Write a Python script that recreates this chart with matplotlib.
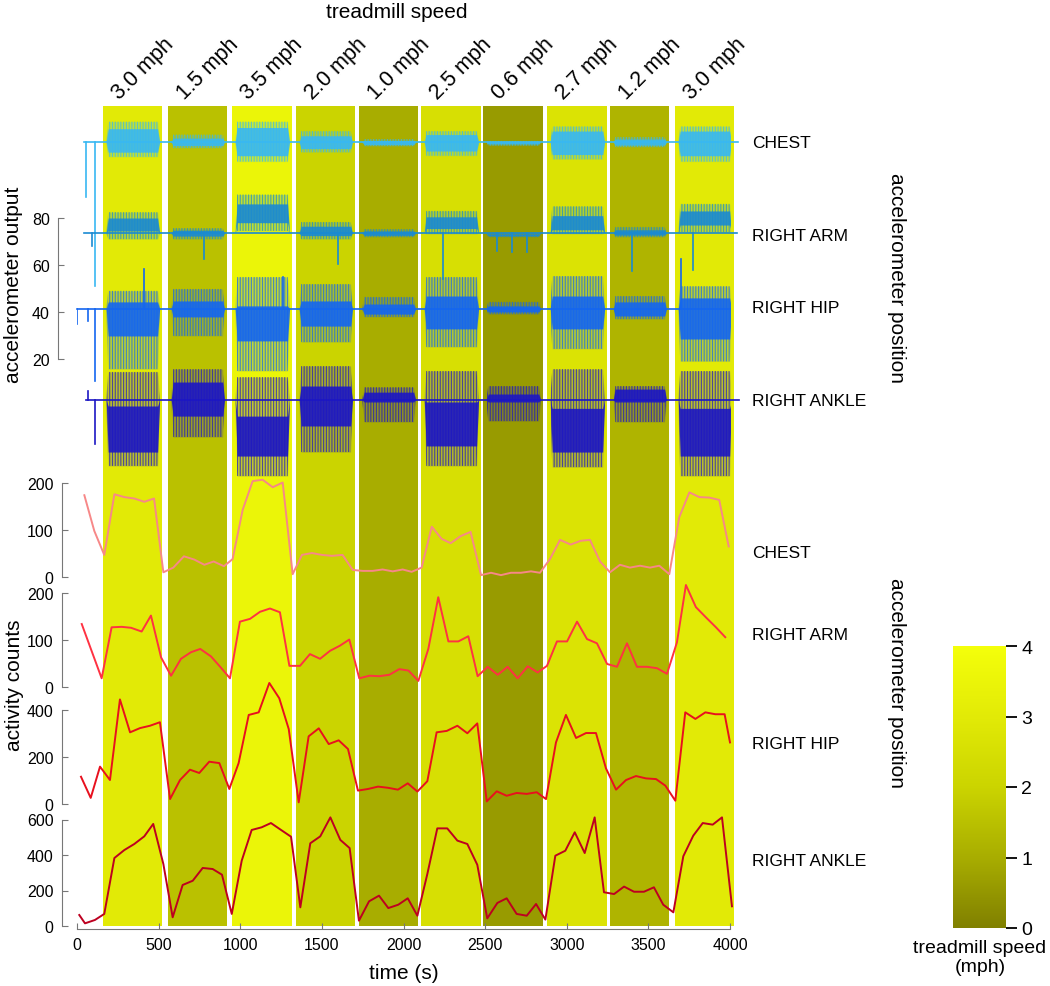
import numpy as np
import matplotlib
matplotlib.use("Agg")
import matplotlib.pyplot as plt
import matplotlib.transforms as mtransforms
from matplotlib.colors import LinearSegmentedColormap, Normalize
from matplotlib.cm import ScalarMappable

plt.rcParams['font.family'] = ['Liberation Sans', 'DejaVu Sans']
plt.rcParams['hatch.linewidth'] = 0.8

W, H = 1050, 987

# treadmill stages
speeds = [3.0, 1.5, 3.5, 2.0, 1.0, 2.5, 0.6, 2.7, 1.2, 3.0]
stage_start = [159, 557, 949, 1341, 1727, 2107, 2487, 2879, 3265, 3663]
stage_end = [521, 919, 1317, 1703, 2089, 2475, 2855, 3247, 3626, 4025]
positions = ['CHEST', 'RIGHT ARM', 'RIGHT HIP', 'RIGHT ANKLE']

# raw accelerometer output (envelope of the trace per stage)
raw_base = [112.3, 73.6, 41.3, 2.6]
raw_span = [(45, 4050), (45, 4040), (0, 4000), (55, 4055)]
raw_hi = [[121, 115.5, 121, 117, 113.6, 117, 112.8, 119, 114.5, 119],
          [82.5, 75.7, 90, 78.3, 75.3, 83, 73.6, 85, 76.2, 86],
          [49, 49.8, 54.9, 51.9, 46.4, 54.9, 44.3, 55.3, 46.8, 51],
          [14.5, 15.7, 12.3, 17, 8, 14.9, 8.5, 15.7, 8.5, 14.9]]
raw_lo = [[106, 109.8, 104, 108, 110.6, 106.5, 110.8, 105, 110.2, 104],
          [71, 71, 74.5, 71, 71.9, 73.2, 71.9, 73.2, 71.9, 74],
          [15.7, 29.8, 14.9, 27.2, 37.9, 25.1, 39.1, 24.3, 37, 19],
          [-25.5, -13.2, -29.8, -19.6, -6.8, -25.5, -6.4, -26, -6.8, -29.8]]
raw_core_hi = [[118, 114, 118.5, 115, 113, 115.5, 112.6, 117, 113.6, 117],
               [80, 74.8, 86, 76.5, 74.5, 80.5, 73.2, 81, 75, 83],
               [44.3, 44.7, 42.6, 44.7, 43.4, 46.8, 42.6, 46.8, 44.3, 46],
               [0, 10.2, -4.3, 8.5, 5.9, 1.7, 5.1, -1, 7.2, -1]]
raw_core_lo = [[108, 110.8, 106.5, 109.5, 111.2, 108.5, 111.5, 107, 111, 106.5],
               [74.5, 72.3, 78, 72.5, 72.6, 75.5, 72.4, 75, 72.7, 77],
               [29.8, 37.9, 27.7, 34, 39.1, 32.8, 40, 32.8, 38.3, 28.5],
               [-19.6, -4.3, -21.3, -8.5, 1.7, -17, 1.7, -19.6, 1.7, -21.3]]
raw_spikes = [[(55, 89), (108, 51)],
              [(90, 68), (778, 62.5), (1599, 60.4), (2244, 54), (2572, 66), (2665, 65.5),
               (2756, 65.5), (3400, 57.4), (3773, 58)],
              [(2, 35), (68, 36), (110, 10.6), (410, 58.3), (1262, 55), (3700, 62.6)],
              [(65, 6.4), (110, -16.2)]]
raw_colors = ['#38b8f2', '#1a8ad2', '#1466f0', '#1c16c4']

# activity counts
chest_t = [45, 106, 167, 229, 290, 351, 412, 472, 529, 590, 655, 719, 780, 837, 900,
           953, 1015, 1076, 1137, 1199, 1260, 1321, 1378, 1439, 1501, 1562, 1627,
           1689, 1750, 1811, 1872, 1934, 1995, 2050, 2111, 2173, 2234, 2289, 2350, 2411,
           2475, 2536, 2597, 2658, 2719, 2781, 2836, 2897, 2959, 3024, 3085, 3142, 3204,
           3265, 3326, 3387, 3449, 3510, 3567, 3628, 3689, 3751, 3812, 3873, 3934, 3992]
chest_counts = [174, 98, 47, 176, 170, 167, 160, 167, 10, 20, 44, 37, 26, 33, 23,
                38, 143, 204, 207, 191, 201, 6, 47, 51, 47, 45, 47,
                15, 13, 13, 16, 12, 16, 11, 20, 107, 81, 72, 87, 96,
                4, 9, 4, 9, 9, 12, 9, 38, 79, 69, 77, 79, 33,
                10, 26, 20, 24, 20, 24, 6, 127, 180, 170, 169, 164, 65]
arm_t = [29, 151, 212, 274, 331, 396, 453, 515, 576, 637, 698, 755, 821, 882,
         937, 998, 1060, 1121, 1182, 1243, 1301, 1366, 1427, 1489, 1550, 1611, 1668,
         1729, 1791, 1852, 1913, 1974, 2030, 2091, 2152, 2213, 2275, 2336, 2397,
         2454, 2516, 2577, 2638, 2699, 2761, 2822, 2879, 2940, 3002, 3063, 3124, 3185,
         3247, 3308, 3369, 3430, 3491, 3553, 3614, 3675, 3730, 3791, 3853, 3914, 3971]
arm_counts = [134, 18.5, 127, 128, 126, 118, 152, 63, 24, 60, 74, 81, 65, 41,
              18.5, 139, 145, 160, 167, 159, 45, 45, 70, 60, 77, 88, 101,
              18.5, 24, 23, 26, 38, 35, 13, 81, 191, 97, 97, 108,
              23, 43, 26, 43, 18.5, 44, 31, 45, 97, 97, 139, 102, 93,
              49, 43, 93, 43, 43, 40, 28, 95, 217, 170, 148, 127, 106]
hip_t = [24.5, 84, 141, 202, 263, 325, 386, 447, 508, 570, 631, 692, 749, 810, 872, 933,
         990, 1052, 1113, 1178, 1239, 1297, 1358, 1419, 1481, 1542, 1603, 1660,
         1721, 1783, 1844, 1905, 1966, 2026, 2085, 2146, 2203, 2265, 2330, 2391, 2452,
         2510, 2571, 2632, 2693, 2755, 2816, 2873, 2934, 2995, 3057, 3118, 3179, 3240,
         3302, 3363, 3424, 3485, 3547, 3604, 3665, 3726, 3788, 3849, 3910, 3967, 4000]
hip_counts = [116, 26, 159, 102, 445, 305, 323, 333, 348, 21, 102, 146, 132, 180, 174, 64,
              174, 379, 390, 515, 450, 319, 7, 288, 322, 255, 271, 234,
              57, 64, 74, 69, 61, 88, 53, 97, 305, 311, 333, 301, 343,
              11, 54, 35, 47, 43, 50, 21, 262, 379, 281, 302, 302, 152,
              61, 102, 119, 109, 106, 78, 14, 390, 362, 390, 382, 382, 262]
ankle_t = [14, 49, 110, 167, 229, 290, 351, 412, 467, 529, 586, 647, 709, 770, 831, 888,
           948, 1009, 1070, 1131, 1188, 1250, 1311, 1368, 1429, 1490, 1552, 1613, 1670,
           1727, 1789, 1850, 1907, 1968, 2026, 2085, 2146, 2207, 2268, 2330, 2391, 2452,
           2513, 2575, 2632, 2693, 2755, 2812, 2869, 2930, 2991, 3049, 3110, 3171,
           3228, 3290, 3351, 3412, 3473, 3534, 3591, 3653, 3714, 3775, 3833, 3894, 3951, 4012]
ankle_counts = [62, 15, 34, 68, 383, 428, 462, 505, 575, 349, 49, 231, 255, 327, 321, 289,
                68, 368, 541, 556, 580, 541, 503, 105, 466, 505, 612, 485, 439,
                30, 139, 171, 101, 120, 156, 58, 293, 550, 550, 481, 462, 345,
                43, 130, 156, 68, 58, 124, 36, 396, 424, 528, 411, 612,
                190, 180, 222, 193, 193, 218, 120, 77, 393, 509, 580, 571, 612, 111]
count_series = [(chest_t, chest_counts), (arm_t, arm_counts),
                (hip_t, hip_counts), (ankle_t, ankle_counts)]
count_colors = ['#f78888', '#ff3242', '#e8101e', '#bd0020']
count_ticks = [[0, 100, 200], [0, 100, 200], [0, 200, 400], [0, 200, 400, 600]]

speed_cmap = LinearSegmentedColormap.from_list(
    'speed', [(0, '#808000'), (0.25, '#a8ad00'), (0.5, '#cbd400'),
              (0.75, '#e2ea06'), (1, '#f4ff0a')])
norm = Normalize(0, 4)


def box(x0, y0, x1, y1):
    # pixel box (top-left origin) -> figure fraction
    return [x0 / W, 1 - y1 / H, (x1 - x0) / W, (y1 - y0) / H]


fig = plt.figure(figsize=(W / 100, H / 100), dpi=100)
X0, X1 = 77, 730

# background stage bands
ax_bg = fig.add_axes(box(X0, 107, X1, 927))
ax_bg.set_xlim(0, 4000)
ax_bg.set_ylim(0, 1)
ax_bg.axis('off')
for s, e, v in zip(stage_start, stage_end, speeds):
    ax_bg.axvspan(s, e, color=speed_cmap(norm(v)), lw=0, clip_on=False)
trans = mtransforms.blended_transform_factory(ax_bg.transData, ax_bg.transAxes)
for s, v in zip(stage_start, speeds):
    ax_bg.text(s + 100, 1.0075, f'{v:.1f} mph', transform=trans, rotation=45,
               rotation_mode='anchor', ha='left', va='baseline', fontsize=15.5)

# raw accelerometer traces: hatched outer envelope + solid core
ax_raw = fig.add_axes(box(X0, 100, X1, 480))
ax_raw.patch.set_alpha(0)
ax_raw.set_xlim(0, 4000)
ax_raw.set_ylim(80 - (480 - 219) / 2.35, 80 + (219 - 100) / 2.35)
for k in range(4):
    c = raw_colors[k]
    b = raw_base[k]
    ax_raw.plot(raw_span[k], [b, b], color=c, lw=1.2, clip_on=False)
    for i in range(10):
        s = stage_start[i] + 20
        e = stage_end[i] - 15
        xs = [s, s + 12, e - 12, e]
        hi = raw_hi[k][i]
        lo = raw_lo[k][i]
        chi = raw_core_hi[k][i]
        clo = raw_core_lo[k][i]
        ax_raw.fill_between(xs, [b, hi, hi, b], [b, lo, lo, b],
                            facecolor='none', edgecolor=c, hatch='||||||', lw=0, alpha=0.7)
        ax_raw.fill_between(xs, [b, hi, hi, b], [b, lo, lo, b],
                            color=c, alpha=0.2, lw=0)
        ax_raw.fill_between(xs, [b, chi, chi, b], [b, clo, clo, b], color=c, lw=0, alpha=0.9)
    for t, v in raw_spikes[k]:
        ax_raw.plot([t, t], [b, v], color=c, lw=1.2)
for sp in ['top', 'right', 'bottom']:
    ax_raw.spines[sp].set_visible(False)
ax_raw.spines['left'].set_position(('outward', 13.7))
ax_raw.spines['left'].set_bounds(20, 80)
ax_raw.spines['left'].set_color('#777777')
ax_raw.set_yticks([20, 40, 60, 80])
ax_raw.set_xticks([])
ax_raw.tick_params(axis='y', direction='in', length=4.5, color='#777777', labelsize=11.5, pad=6)

# activity count panels: (zero px, px per unit, top px, bottom px)
panels = [(578, 0.47, 470, 585), (688, 0.47, 580, 695),
          (805, 0.235, 680, 812), (927, 0.1775, 810, 930)]
for k, (zero, scale, top, bot) in enumerate(panels):
    ax = fig.add_axes(box(X0, top, X1, bot))
    ax.patch.set_alpha(0)
    ax.set_xlim(0, 4000)
    ax.set_ylim((zero - bot) / scale, (zero - top) / scale)
    t, v = count_series[k]
    ax.plot(t, v, color=count_colors[k], lw=1.4, clip_on=False)
    for sp in ['top', 'right']:
        ax.spines[sp].set_visible(False)
    ax.spines['left'].set_position(('outward', 10.8))
    ax.spines['left'].set_bounds(0, count_ticks[k][-1])
    ax.spines['left'].set_color('#777777')
    ax.set_yticks(count_ticks[k])
    ax.tick_params(axis='both', direction='in', length=4.5, color='#777777', labelsize=11.5, pad=6)
    if k < 3:
        ax.spines['bottom'].set_visible(False)
        ax.set_xticks([])
    else:
        ax.spines['bottom'].set_bounds(0, 4000)
        ax.spines['bottom'].set_color('#777777')
        ax.set_xticks(np.arange(0, 4001, 500))
        ax.set_xlabel('time (s)', fontsize=15, labelpad=8)


def ftext(x, y, s, **kw):
    fig.text(x / W, 1 - y / H, s, **kw)


ftext(397, 12, 'treadmill speed', ha='center', va='center', fontsize=15)
ftext(14, 285, 'accelerometer output', rotation=90, ha='center', va='center', fontsize=15)
ftext(14, 685, 'activity counts', rotation=90, ha='center', va='center', fontsize=15)
ftext(896, 278, 'accelerometer position', rotation=-90, ha='center', va='center', fontsize=15)
ftext(896, 683, 'accelerometer position', rotation=-90, ha='center', va='center', fontsize=15)
for name, y in zip(positions, [143, 237, 309, 402]):
    ftext(752, y, name, ha='left', va='center', fontsize=12.5)
for name, y in zip(positions, [553, 635, 745, 861]):
    ftext(752, y, name, ha='left', va='center', fontsize=12.5)

# colorbar
cax = fig.add_axes(box(953, 647, 1006, 929))
cb = fig.colorbar(ScalarMappable(norm=norm, cmap=speed_cmap), cax=cax)
cb.outline.set_visible(False)
cb.set_ticks([0, 1, 2, 3, 4])
cax.tick_params(direction='out', length=8, width=1.3, labelsize=14, pad=3)
ftext(980, 949, 'treadmill speed', ha='center', va='center', fontsize=14)
ftext(980, 968, '(mph)', ha='center', va='center', fontsize=14)

fig.savefig('out.png', dpi=100)
